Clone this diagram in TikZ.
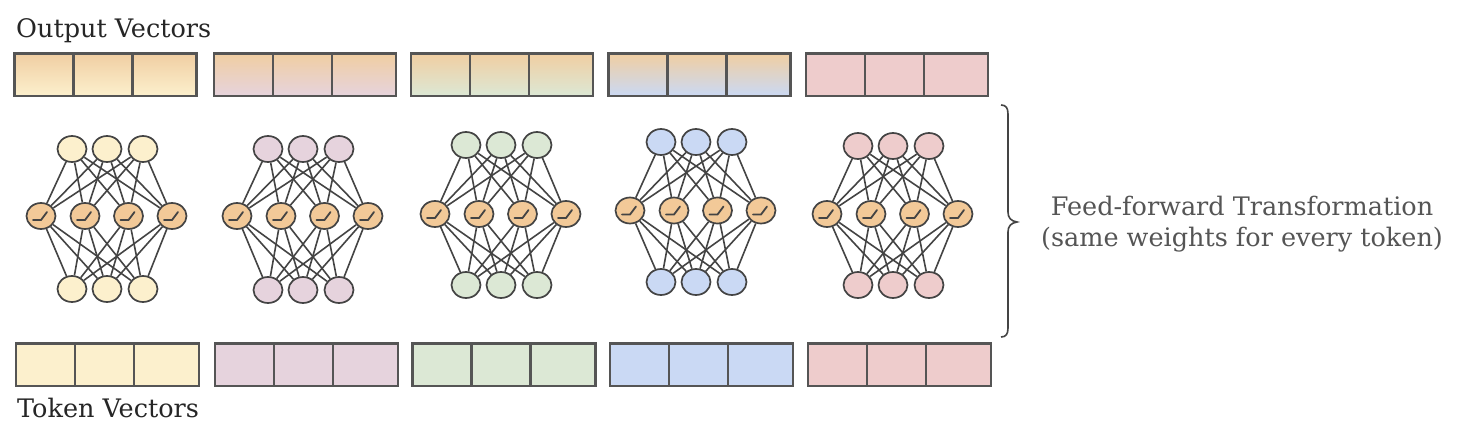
\documentclass[tikz,border=0pt]{standalone}
\usepackage{fontspec}
\setmainfont{DejaVu Serif}
\usetikzlibrary{shapes.geometric}
\definecolor{cY}{HTML}{FCF0CD}
\definecolor{cM}{HTML}{E6D3DD}
\definecolor{cG}{HTML}{DCE8D5}
\definecolor{cB}{HTML}{CAD9F4}
\definecolor{cR}{HTML}{EECCCC}
\definecolor{cH}{HTML}{F2C998}
\definecolor{cOr}{HTML}{F0CEA2}
\definecolor{cLine}{HTML}{444444}
\definecolor{cBox}{HTML}{555555}
\definecolor{cTxt}{HTML}{555555}
\tikzset{
  neuron/.style={ellipse, draw=cLine, line width=1.7pt, minimum width=29pt, minimum height=26pt, inner sep=0pt},
  hidden/.style={neuron, fill=cH},
  wire/.style={draw=cLine, line width=1.6pt},
  cellbox/.style={draw=cBox, line width=2.4pt},
  relu/.style={draw=cLine, line width=1.8pt, line cap=round, line join=round},
  lab/.style={anchor=base west, font=\fontsize{25.5}{30}\selectfont, text=black!85},
}
\begin{document}
\begin{tikzpicture}[x=1pt,y=-1pt]
\useasboundingbox (0,0) rectangle (1464,442);
\fill[white] (0,0) rectangle (1464,442);

% labels
\node[lab, inner sep=0pt] (outlab) at (16,37) {Output Vectors};
\node[lab, inner sep=0pt] (toklab) at (17,417) {Token Vectors};

% vector groups
\foreach \g/\ox/\tx/\col in {1/14.5/16/cY, 2/214/215/cM, 3/411/412.5/cG, 4/608.5/610/cB, 5/806/808/cR}{
  % output vectors
  \ifnum\g=5
    \fill[\col] (\ox,53.5) rectangle ++(182,42.5);
  \else
    \shade[top color=cOr, bottom color=\col] (\ox,53.5) rectangle ++(182,42.5);
  \fi
  \draw[cellbox] (\ox,53.5) rectangle ++(182,42.5);
  \draw[cellbox] (\ox+59,53.5) -- ++(0,42.5) (\ox+118,53.5) -- ++(0,42.5);
  % token vectors
  \fill[\col] (\tx,343.5) rectangle ++(183,42.5);
  \draw[cellbox] (\tx,343.5) rectangle ++(183,42.5);
  \draw[cellbox] (\tx+59,343.5) -- ++(0,42.5) (\tx+118,343.5) -- ++(0,42.5);
}

% networks
\foreach \i/\cx/\ty/\hy/\by/\col in {1/107/149/216/289/cY, 2/303/149/216/290/cM, 3/501/145/214/285/cG, 4/696/142/210.5/282/cB, 5/893/146/214/285/cR}{
  \foreach \k/\dx in {1/-35,2/0,3/36}{
    \node[neuron, fill=\col] (t\i-\k) at (\cx+\dx,\ty) {};
    \node[neuron, fill=\col] (b\i-\k) at (\cx+\dx,\by) {};
  }
  \foreach \k/\dx in {1/-66,2/-22,3/21.5,4/65}{
    \node[hidden] (h\i-\k) at (\cx+\dx,\hy) {};
    \draw[relu] ([shift={(-8,4)}]h\i-\k.center) -- ++(8,0) -- ++(6,-8);
  }
  \foreach \a in {1,2,3}{
    \foreach \b in {1,2,3,4}{
      \draw[wire] (t\i-\a) -- (h\i-\b);
      \draw[wire] (h\i-\b) -- (b\i-\a);
    }
  }
}

% brace
\draw[draw=cLine, line width=1.6pt] (1001,105) .. controls (1006,105) and (1008,108) .. (1008,114)
  -- (1008,212) .. controls (1008,218) and (1011,221) .. (1017,222)
  .. controls (1011,223) and (1008,226) .. (1008,232)
  -- (1008,328) .. controls (1008,334) and (1006,337) .. (1001,337);

\node[align=center, text=cTxt, font=\fontsize{25.5}{31}\selectfont, inner sep=0pt] (fft) at (1242,224)
  {Feed-forward Transformation\\(same weights for every token)};
\end{tikzpicture}
\end{document}
